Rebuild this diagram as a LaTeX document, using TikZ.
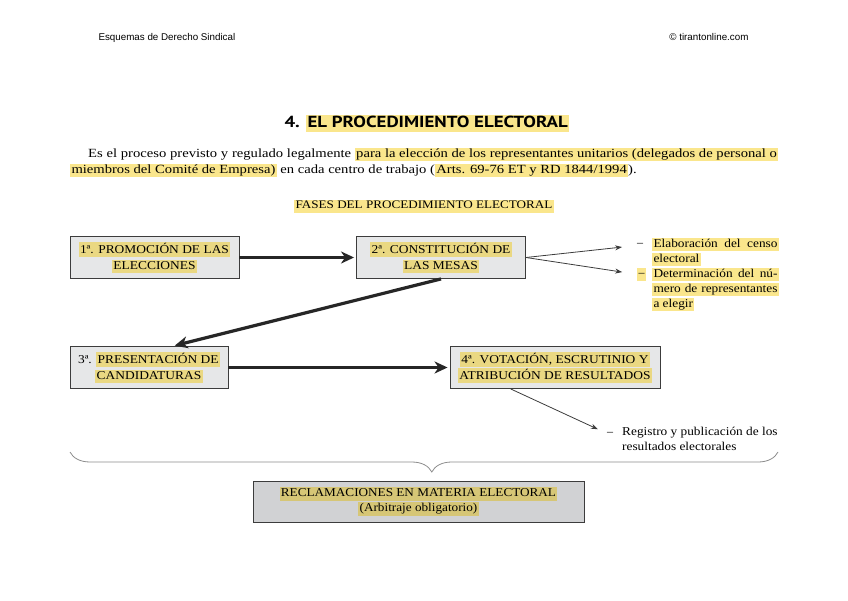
\documentclass[tikz,border=0pt]{standalone}
\usepackage{fontspec}
\setmainfont{Liberation Serif}
\newfontfamily\headfont{Liberation Sans}
\newfontfamily\titlefont{PT Sans}
\usetikzlibrary{arrows.meta, positioning, calc, decorations.pathreplacing}
\definecolor{BoxGray}{RGB}{230,231,232}
\definecolor{BoxDark}{RGB}{209,210,212}
\definecolor{LineGray}{RGB}{60,60,60}
\definecolor{MarkYellow}{RGB}{250,230,140}
\definecolor{MarkBox}{RGB}{234,216,130}
\definecolor{MarkDark}{RGB}{214,198,118}
\newcommand{\marca}[2][MarkYellow]{{\setlength{\fboxsep}{1.3pt}\colorbox{#1}{\vphantom{Ay}#2}}}
\newcommand{\ancho}[1]{\addfontfeature{FakeStretch=#1}}

\begin{document}
\begin{tikzpicture}[
    x=1pt, y=-1pt,
    fase/.style={draw=LineGray, line width=0.9pt, fill=BoxGray, align=center,
        minimum height=42pt, inner sep=2pt, font=\fontsize{12}{15.5}\selectfont\ancho{1.12}},
    flow/.style={-{Stealth[length=13pt, width=12pt, inset=4pt]}, line width=3.2pt,
        black!85, shorten >=2pt},
    side/.style={-{Stealth[length=7pt, width=5pt]}, line width=0.8pt, LineGray},
    item/.style={font=\fontsize{12}{15}\selectfont\ancho{1.11}, align=left, inner sep=0pt, anchor=north west},
    guion/.style={font=\fontsize{12}{15}\selectfont, inner sep=0pt, anchor=base west},
    parr/.style={anchor=base west, inner sep=0pt, font=\fontsize{12.5}{16}\selectfont\ancho{1.17}},
]
\useasboundingbox (0,0) rectangle (848,601);

% ================= cabecera =================
\node[font=\headfont\fontsize{9.8}{11}\selectfont, anchor=base west] (cabizq) at (95,41) {Esquemas de Derecho Sindical};
\node[font=\headfont\fontsize{9.8}{11}\selectfont, anchor=base east] (cabder) at (752,41) {© tirantonline.com};

\node[anchor=base west, font=\titlefont\fontsize{16}{19}\selectfont\bfseries\ancho{1.18}] (titulo) at (281,127.5)
    {4. \marca{EL PROCEDIMIENTO ELECTORAL}};
\node[parr] (par1) at (88,157.5)
    {\makebox[690pt][s]{Es el proceso previsto y regulado legalmente \marca{para la elección de los representantes unitarios (delegados de personal o}}};
\node[parr] (par2) at (70,173.5)
    {\marca{miembros del Comité de Empresa)} en cada centro de trabajo (\marca{Arts. 69-76 ET y RD 1844/1994}).};
\node[anchor=base, font=\fontsize{11.5}{14}\selectfont\ancho{1.14}] (fases) at (424,209)
    {\marca{FASES DEL PROCEDIMIENTO ELECTORAL}};

% ================= fases =================
\node[fase, minimum width=169pt] (f1) at (154.5,257.5)
    {\marca[MarkBox]{1ª. PROMOCIÓN DE LAS}\\\marca[MarkBox]{ELECCIONES}};
\node[fase, minimum width=169pt] (f2) at (441,257.5)
    {\marca[MarkBox]{2ª. CONSTITUCIÓN DE}\\\marca[MarkBox]{LAS MESAS}};
\node[fase, minimum width=158pt] (f3) at (149,367.5)
    {3ª. \marca[MarkBox]{PRESENTACIÓN DE}\\\marca[MarkBox]{CANDIDATURAS}};
\node[fase, minimum width=210pt] (f4) at (555,367.5)
    {\marca[MarkBox]{4ª. VOTACIÓN, ESCRUTINIO Y}\\\marca[MarkBox]{ATRIBUCIÓN DE RESULTADOS}};

\draw[flow] (f1.east) -- (f2.west);
\draw[flow] (f2.south) -- ($(f3.north west)!0.65!(f3.north east)$);
\draw[flow] (f3.east) -- (f4.west);

% listas laterales
\node[guion] (d1) at (637,247) {–};
\node[item] (t1) at (652,237.5)
    {\marca{\makebox[124pt][s]{Elaboración del censo}}\\\marca{electoral}};
\node[guion] (d2) at (637,277) {\marca{–}};
\node[item] (t2) at (652,267.5)
    {\marca{\makebox[124pt][s]{Determinación del nú-}}\\\marca{\makebox[124pt][s]{mero de representantes}}\\\marca{a elegir}};
\node[guion] (d3) at (607,435) {–};
\node[item] (t3) at (622,426.5) {Registro y publicación de los\\resultados electorales};

\draw[side, shorten >=15pt] (f2.east) -- (d1.west);
\draw[side, shorten >=15pt] (f2.east) -- (d2.west);
\draw[side, shorten >=10pt] ($(f4.south west)!0.29!(f4.south east)$) -- (d3.west);

% ================= reclamaciones =================
\coordinate (llaveizq) at (70,452);
\coordinate (llaveder) at (778,452);
\draw[decorate, decoration={brace, mirror, amplitude=20pt, aspect=0.511}, black!45, line width=0.8pt]
    (llaveizq) -- (llaveder);
\node[fase, fill=BoxDark, minimum width=331pt, minimum height=41pt, font=\fontsize{12}{15}\selectfont\ancho{1.1}] (recl) at (418.5,501.5)
    {\marca[MarkDark]{RECLAMACIONES EN MATERIA ELECTORAL}\\\marca[MarkDark]{(Arbitraje obligatorio)}};

\end{tikzpicture}
\end{document}
